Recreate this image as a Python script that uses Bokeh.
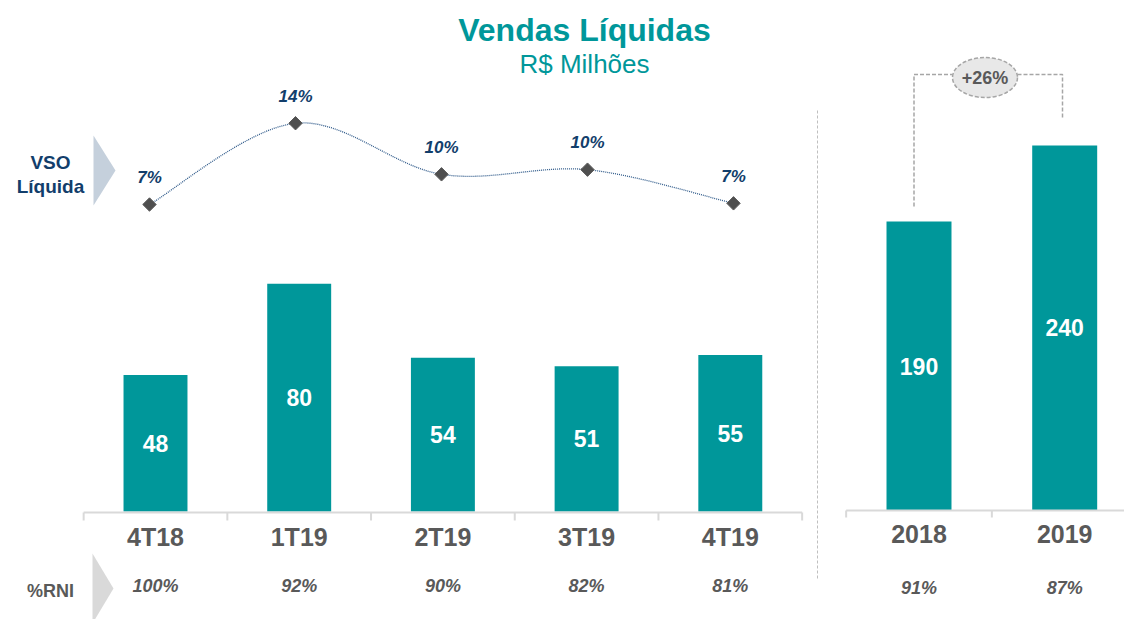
from bokeh.plotting import figure
from bokeh.models import Range1d
from bokeh.core.properties import value
from bokeh.embed import file_html
from bokeh.resources import INLINE

# ---------------- data ----------------
quarters = ["4T18", "1T19", "2T19", "3T19", "4T19"]
quarter_sales = [48, 80, 54, 51, 55]
vso_values = [7.0, 14.0, 9.6, 10.0, 7.1]
vso_labels = ["7%", "14%", "10%", "10%", "7%"]
rni_quarters = ["100%", "92%", "90%", "82%", "81%"]

years = ["2018", "2019"]
year_sales = [190, 240]
rni_years = ["91%", "87%"]
growth_label = "+26%"

title_text = "Vendas Líquidas"
subtitle_text = "R$ Milhões"

# ---------------- style ----------------
W, H = 1124, 619
TEAL = "#00979A"
NAVY = "#123E6B"
GREY_TXT = "#595959"
AXIS = "#D9D9D9"
FONT = value("Liberation Sans")


def xr(px0, ppu):
    return Range1d(start=-px0 / ppu, end=(W - px0) / ppu)


def yr(px0, ppu, v0=0.0):
    return Range1d(start=v0 - (H - px0) / ppu, end=v0 + px0 / ppu)


p = figure(width=W, height=H, x_range=Range1d(0, W), y_range=Range1d(H, 0),
           output_backend="svg", toolbar_location=None,
           x_axis_location=None, y_axis_location=None,
           min_border=0, outline_line_color=None,
           background_fill_color="white", border_fill_color="white")
p.grid.visible = False
p.extra_x_ranges = {"qx": xr(155, 143.7), "lx": xr(149, 146), "ax": xr(918.5, 145.7)}
p.extra_y_ranges = {"qy": yr(511, 2.846), "ay": yr(510, 1.521), "vy": yr(204, 11.61, 7.0)}

qi = list(range(len(quarters)))
ai = list(range(len(years)))

# ---------------- titles ----------------
p.text(x=[584], y=[29], text=[title_text], text_font=FONT, text_font_size="32px",
       text_font_style="bold", text_color=TEAL, text_align="center", text_baseline="middle")
p.text(x=[584], y=[63], text=[subtitle_text], text_font=FONT, text_font_size="26px",
       text_color=TEAL, text_align="center", text_baseline="middle")

# ---------------- side labels ----------------
p.patch(x=[93, 115, 93], y=[135, 170, 205], fill_color="#C5D0DC", line_color=None)
p.text(x=[50, 50], y=[162, 186], text=["VSO", "Líquida"], text_font=FONT, text_font_size="19px",
       text_font_style="bold", text_color=NAVY, text_align="center", text_baseline="middle")
p.patch(x=[92, 113, 92], y=[553, 588, 623], fill_color="#D9D9D9", line_color=None)
p.text(x=[50], y=[590], text=["%RNI"], text_font=FONT, text_font_size="18px",
       text_font_style="bold", text_color=GREY_TXT, text_align="center", text_baseline="middle")

# ---------------- separator ----------------
p.segment(x0=[817], y0=[110], x1=[817], y1=[578], line_color="#BFBFBF", line_width=1,
          line_dash=value("3 2"))

# ---------------- quarterly bars ----------------
p.vbar(x=qi, top=quarter_sales, bottom=0, width=0.445, x_range_name="qx", y_range_name="qy",
       fill_color=TEAL, line_color=None)
p.text(x=qi, y=[v / 2 for v in quarter_sales], text=[str(v) for v in quarter_sales],
       x_range_name="qx", y_range_name="qy", text_font=FONT, text_font_size="23px",
       text_font_style="bold", text_color="white", text_align="center", text_baseline="middle")

# axis (quarterly)
p.segment(x0=[-0.5], y0=[512], x1=[len(quarters) - 0.5], y1=[512], x_range_name="qx",
          line_color=AXIS, line_width=2)
bnd = [i - 0.5 for i in range(len(quarters) + 1)]
p.segment(x0=bnd, y0=[512] * len(bnd), x1=bnd, y1=[520] * len(bnd), x_range_name="qx",
          line_color=AXIS, line_width=2)
p.text(x=qi, y=[536] * len(qi), text=quarters, x_range_name="qx", text_font=FONT,
       text_font_size="25px", text_font_style="bold", text_color=GREY_TXT,
       text_align="center", text_baseline="middle")
p.text(x=qi, y=[585] * len(qi), text=rni_quarters, x_range_name="qx", text_font=FONT,
       text_font_size="18px", text_font_style="bold italic", text_color=GREY_TXT,
       text_align="center", text_baseline="middle")

# ---------------- VSO line ----------------
n = len(vso_values)
pts = list(zip(qi, vso_values))
x0, y0, x1, y1, cx0, cy0, cx1, cy1 = [], [], [], [], [], [], [], []
for k in range(n - 1):
    pa = pts[max(k - 1, 0)]
    pb = pts[k]
    pc = pts[k + 1]
    pd = pts[min(k + 2, n - 1)]
    x0.append(pb[0]); y0.append(pb[1]); x1.append(pc[0]); y1.append(pc[1])
    cx0.append(pb[0] + (pc[0] - pa[0]) / 6); cy0.append(pb[1] + (pc[1] - pa[1]) / 6)
    cx1.append(pc[0] - (pd[0] - pb[0]) / 6); cy1.append(pc[1] - (pd[1] - pb[1]) / 6)
p.bezier(x0=x0, y0=y0, x1=x1, y1=y1, cx0=cx0, cy0=cy0, cx1=cx1, cy1=cy1,
         x_range_name="lx", y_range_name="vy", line_color="#2F5A8A", line_width=1.3,
         line_dash=value("1 1"))
p.scatter(x=qi, y=vso_values, x_range_name="lx", y_range_name="vy", marker="square",
          angle=0.785398, size=9.5, fill_color="#4F4F4F", line_color="#595959", line_width=1)
p.text(x=qi, y=vso_values, text=vso_labels, x_range_name="lx", y_range_name="vy",
       y_offset=-27, text_font=FONT, text_font_size="17px", text_font_style="bold italic",
       text_color=NAVY, text_align="center", text_baseline="middle")

# ---------------- annual bars ----------------
p.vbar(x=ai, top=year_sales, bottom=0, width=0.446, x_range_name="ax", y_range_name="ay",
       fill_color=TEAL, line_color=None)
p.text(x=ai, y=[v / 2 for v in year_sales], text=[str(v) for v in year_sales],
       x_range_name="ax", y_range_name="ay", text_font=FONT, text_font_size="23px",
       text_font_style="bold", text_color="white", text_align="center", text_baseline="middle")
p.segment(x0=[-0.5], y0=[510], x1=[len(years) - 0.5], y1=[510], x_range_name="ax",
          line_color=AXIS, line_width=2)
abnd = [i - 0.5 for i in range(len(years) + 1)]
p.segment(x0=abnd, y0=[510] * len(abnd), x1=abnd, y1=[517] * len(abnd), x_range_name="ax",
          line_color=AXIS, line_width=2)
p.text(x=ai, y=[533] * len(ai), text=years, x_range_name="ax", text_font=FONT,
       text_font_size="25px", text_font_style="bold", text_color=GREY_TXT,
       text_align="center", text_baseline="middle")
p.text(x=ai, y=[587] * len(ai), text=rni_years, x_range_name="ax", text_font=FONT,
       text_font_size="18px", text_font_style="bold italic", text_color=GREY_TXT,
       text_align="center", text_baseline="middle")

# ---------------- growth bracket ----------------
p.multi_line(xs=[[913.5, 913.5, 952], [1017, 1062, 1062]], ys=[[206, 74, 74], [74, 74, 118]],
             line_color="#A6A6A6", line_width=1.5, line_dash=value("4 2"))
p.ellipse(x=[984.5], y=[77], width=[65], height=[40], fill_color="#E8E8E8",
          line_color="#A6A6A6", line_width=1.5, line_dash=value("4 2"))
p.text(x=[984.5], y=[77], text=[growth_label], text_font=FONT, text_font_size="18px",
       text_font_style="bold", text_color=GREY_TXT, text_align="center", text_baseline="middle")

open("out.html", "w").write(file_html(p, INLINE))
